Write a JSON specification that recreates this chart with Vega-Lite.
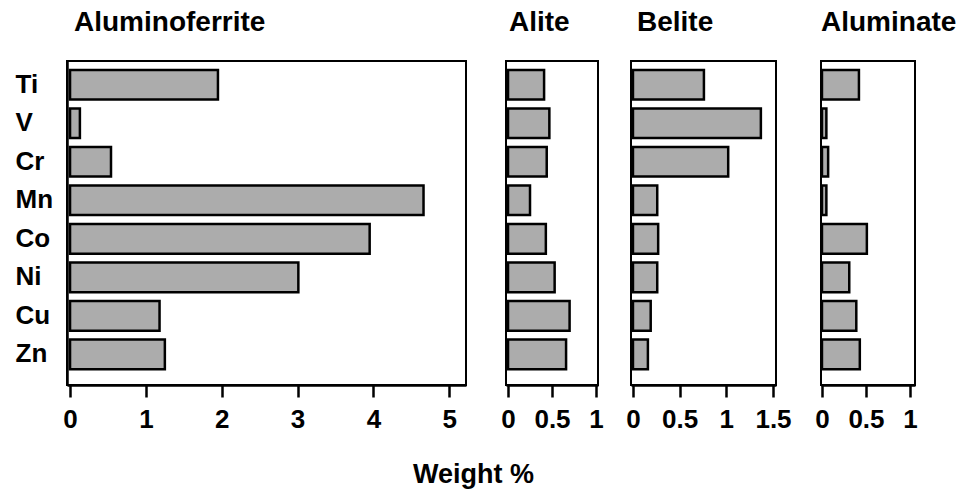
{
  "$schema": "https://vega.github.io/schema/vega-lite/v6.json",
  "background": "white",
  "padding": {"left": 14, "top": 8, "right": 5, "bottom": 5},
  "config": {
    "font": "Liberation Sans",
    "view": {"stroke": "black", "strokeWidth": 2},
    "axis": {"grid": false, "labelColor": "black", "domainColor": "black", "tickColor": "black"},
    "title": {"anchor": "start", "frame": "group", "fontSize": 28, "fontWeight": "bold", "baseline": "alphabetic", "offset": 24, "color": "black"}
  },
  "data": {
    "values": [
      {"phase": "Aluminoferrite", "element": "Ti", "wt": 1.95},
      {"phase": "Aluminoferrite", "element": "V", "wt": 0.13},
      {"phase": "Aluminoferrite", "element": "Cr", "wt": 0.54},
      {"phase": "Aluminoferrite", "element": "Mn", "wt": 4.66},
      {"phase": "Aluminoferrite", "element": "Co", "wt": 3.95},
      {"phase": "Aluminoferrite", "element": "Ni", "wt": 3.01},
      {"phase": "Aluminoferrite", "element": "Cu", "wt": 1.18},
      {"phase": "Aluminoferrite", "element": "Zn", "wt": 1.25},
      {"phase": "Alite", "element": "Ti", "wt": 0.41},
      {"phase": "Alite", "element": "V", "wt": 0.47},
      {"phase": "Alite", "element": "Cr", "wt": 0.44},
      {"phase": "Alite", "element": "Mn", "wt": 0.25},
      {"phase": "Alite", "element": "Co", "wt": 0.43},
      {"phase": "Alite", "element": "Ni", "wt": 0.53},
      {"phase": "Alite", "element": "Cu", "wt": 0.70},
      {"phase": "Alite", "element": "Zn", "wt": 0.66},
      {"phase": "Belite", "element": "Ti", "wt": 0.76},
      {"phase": "Belite", "element": "V", "wt": 1.37},
      {"phase": "Belite", "element": "Cr", "wt": 1.02},
      {"phase": "Belite", "element": "Mn", "wt": 0.26},
      {"phase": "Belite", "element": "Co", "wt": 0.27},
      {"phase": "Belite", "element": "Ni", "wt": 0.26},
      {"phase": "Belite", "element": "Cu", "wt": 0.19},
      {"phase": "Belite", "element": "Zn", "wt": 0.16},
      {"phase": "Aluminate", "element": "Ti", "wt": 0.42},
      {"phase": "Aluminate", "element": "V", "wt": 0.05},
      {"phase": "Aluminate", "element": "Cr", "wt": 0.07},
      {"phase": "Aluminate", "element": "Mn", "wt": 0.05},
      {"phase": "Aluminate", "element": "Co", "wt": 0.51},
      {"phase": "Aluminate", "element": "Ni", "wt": 0.31},
      {"phase": "Aluminate", "element": "Cu", "wt": 0.39},
      {"phase": "Aluminate", "element": "Zn", "wt": 0.43}
    ]
  },
  "bounds": "flush",
  "spacing": 40,
  "hconcat": [
    {
      "title": {"text": "Aluminoferrite", "dx": 7},
      "width": 399,
      "height": 324,
      "transform": [{"filter": "datum.phase === 'Aluminoferrite'"}],
      "mark": {"type": "bar", "fill": "#acacac", "stroke": "black", "strokeWidth": 2.5},
      "encoding": {
        "y": {
          "field": "element", "type": "nominal",
          "sort": ["Ti", "V", "Cr", "Mn", "Co", "Ni", "Cu", "Zn"],
          "scale": {"paddingInner": 0.23, "paddingOuter": 0.32, "align": 0.36},
          "axis": {"title": null, "ticks": false, "tickSize": 0, "labelAlign": "left", "labelPadding": 52, "labelBaseline": "middle", "labelFontSize": 26, "labelFontWeight": "bold", "domainWidth": 2.5}
        },
        "x": {
          "field": "wt", "type": "quantitative",
          "scale": {"domain": [-0.04, 5.22], "nice": false, "zero": false},
          "axis": {"values": [0, 1, 2, 3, 4, 5], "format": "~g", "tickSize": 12, "tickWidth": 2.5, "domainWidth": 2.5, "labelPadding": 9, "labelFontSize": 26, "labelFontWeight": "bold", "labelFlush": false,
            "title": "Weight %", "titleX": 406, "titleY": 97, "titleAlign": "center", "titleBaseline": "alphabetic", "titleFontSize": 27, "titleFontWeight": "bold", "titleColor": "black"}
        },
        "x2": {"datum": 0}
      }
    },
    {
      "bounds": "flush",
      "spacing": 33,
      "hconcat": [
        {
          "title": {"text": "Alite", "dx": 3},
          "width": 92,
          "height": 324,
          "transform": [{"filter": "datum.phase === 'Alite'"}],
          "mark": {"type": "bar", "fill": "#acacac", "stroke": "black", "strokeWidth": 2.5},
          "encoding": {
            "y": {
              "field": "element", "type": "nominal",
              "sort": ["Ti", "V", "Cr", "Mn", "Co", "Ni", "Cu", "Zn"],
              "scale": {"paddingInner": 0.23, "paddingOuter": 0.32, "align": 0.36},
              "axis": null
            },
            "x": {
              "field": "wt", "type": "quantitative",
              "scale": {"domain": [-0.023, 1.023], "nice": false, "zero": false},
              "axis": {"values": [0, 0.5, 1], "format": "~g", "tickSize": 12, "tickWidth": 2.5, "domainWidth": 2.5, "labelPadding": 9, "labelFontSize": 26, "labelFontWeight": "bold", "labelFlush": false, "labelOverlap": false, "title": null}
            },
            "x2": {"datum": 0}
          }
        },
        {
          "bounds": "flush",
          "spacing": 45,
          "hconcat": [
            {
              "title": {"text": "Belite", "dx": 6},
              "width": 145,
              "height": 324,
              "transform": [{"filter": "datum.phase === 'Belite'"}],
              "mark": {"type": "bar", "fill": "#acacac", "stroke": "black", "strokeWidth": 2.5},
              "encoding": {
                "y": {
                  "field": "element", "type": "nominal",
                  "sort": ["Ti", "V", "Cr", "Mn", "Co", "Ni", "Cu", "Zn"],
                  "scale": {"paddingInner": 0.23, "paddingOuter": 0.32, "align": 0.36},
                  "axis": null
                },
                "x": {
                  "field": "wt", "type": "quantitative",
                  "scale": {"domain": [-0.021, 1.532], "nice": false, "zero": false},
                  "axis": {"values": [0, 0.5, 1, 1.5], "format": "~g", "tickSize": 12, "tickWidth": 2.5, "domainWidth": 2.5, "labelPadding": 9, "labelFontSize": 26, "labelFontWeight": "bold", "labelFlush": false, "labelOverlap": false, "title": null}
                },
                "x2": {"datum": 0}
              }
            },
            {
              "title": {"text": "Aluminate", "dx": 0},
              "width": 94,
              "height": 324,
              "transform": [{"filter": "datum.phase === 'Aluminate'"}],
              "mark": {"type": "bar", "fill": "#acacac", "stroke": "black", "strokeWidth": 2.5},
              "encoding": {
                "y": {
                  "field": "element", "type": "nominal",
                  "sort": ["Ti", "V", "Cr", "Mn", "Co", "Ni", "Cu", "Zn"],
                  "scale": {"paddingInner": 0.23, "paddingOuter": 0.32, "align": 0.36},
                  "axis": null
                },
                "x": {
                  "field": "wt", "type": "quantitative",
                  "scale": {"domain": [-0.011, 1.057], "nice": false, "zero": false},
                  "axis": {"values": [0, 0.5, 1], "format": "~g", "tickSize": 12, "tickWidth": 2.5, "domainWidth": 2.5, "labelPadding": 9, "labelFontSize": 26, "labelFontWeight": "bold", "labelFlush": false, "labelOverlap": false, "title": null}
                },
                "x2": {"datum": 0}
              }
            }
          ]
        }
      ]
    }
  ]
}
